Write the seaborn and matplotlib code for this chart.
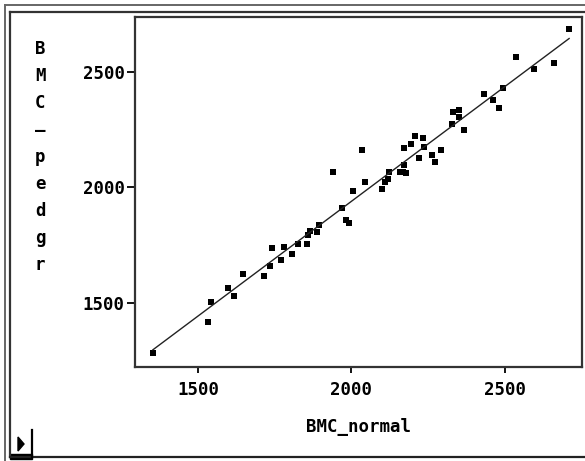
import matplotlib
matplotlib.use("Agg")
import matplotlib.pyplot as plt
import seaborn as sns
import pandas as pd
from matplotlib.lines import Line2D
from matplotlib.patches import Rectangle, Polygon

# ---- data ----
bmc_normal = [1353, 1533, 1542, 1598, 1617, 1647, 1715, 1735, 1741, 1771,
              1781, 1805, 1826, 1856, 1860, 1865, 1888, 1895, 1970, 1984,
              1992, 2005, 1939, 2034, 2043, 2099, 2110, 2120, 2124, 2157,
              2169, 2179, 2173, 2173, 2193, 2208, 2233, 2238, 2222, 2262,
              2273, 2291, 2327, 2333, 2352, 2352, 2366, 2433, 2461, 2482,
              2496, 2536, 2596, 2661, 2710]
bmc_pedgr = [1283, 1417, 1504, 1564, 1530, 1625, 1614, 1660, 1738, 1686,
             1742, 1712, 1755, 1755, 1794, 1811, 1807, 1835, 1911, 1859,
             1846, 1984, 2068, 2162, 2025, 1995, 2025, 2035, 2068, 2068,
             2068, 2061, 2097, 2172, 2189, 2222, 2216, 2173, 2129, 2140,
             2111, 2163, 2274, 2326, 2335, 2307, 2250, 2404, 2377, 2342,
             2429, 2565, 2513, 2537, 2684]
x_ticks = [1500, 2000, 2500]
y_ticks = [1500, 2000, 2500]
x_label = "BMC_normal"
y_label = "BMC_pedgr"

df = pd.DataFrame({"BMC_normal": bmc_normal, "BMC_pedgr": bmc_pedgr})

W, H = 585, 461
fig = plt.figure(figsize=(W / 100, H / 100), dpi=100)
fig.patch.set_facecolor("white")

def fx(x):
    return x / W

def fy(y):
    return 1 - y / H

ax = fig.add_axes([fx(134.5), fy(367), fx(582) - fx(134.5), fy(17) - fy(367)])

sns.regplot(data=df, x="BMC_normal", y="BMC_pedgr", ax=ax, ci=None,
            marker="s",
            scatter_kws=dict(s=15, color="black", linewidths=0, alpha=1),
            line_kws=dict(color="#222222", lw=1.0))

ax.set_xlim(1293, 2752)
ax.set_ylim(1222, 2738)
ax.set_xticks(x_ticks)
ax.set_yticks(y_ticks)

font = dict(family="DejaVu Sans Mono", weight="bold", size=12.5)
ax.set_xticklabels([str(t) for t in x_ticks], fontdict=font)
ax.set_yticklabels([str(t) for t in y_ticks], fontdict=font)
ax.tick_params(axis="x", direction="out", length=4, width=1.3, pad=6, colors="black")
ax.tick_params(axis="y", direction="out", length=6, width=1.3, pad=1, colors="black")
ax.set_xlabel(x_label, fontdict=font, labelpad=14)
ax.set_ylabel("")
for sp in ax.spines.values():
    sp.set_linewidth(1.6)
    sp.set_color("#333333")
ax.set_facecolor("white")

# stacked vertical y label
ys = [49 + 27 * i for i in range(len(y_label))]
for ch, yy in zip(y_label, ys):
    if ch == "_":
        fig.text(fx(40), fy(yy - 7), ch, ha="center", va="center", **font)
    else:
        fig.text(fx(40), fy(yy), ch, ha="center", va="center", **font)

# window frame
def line(x0, y0, x1, y1, color="#555555", lw=1.5):
    fig.add_artist(Line2D([fx(x0), fx(x1)], [fy(y0), fy(y1)],
                          transform=fig.transFigure, color=color, lw=lw))

line(5, 5, 585, 5, "#666666", 1.4)
line(5, 5, 5, 461, "#666666", 1.4)
line(10, 12, 585, 12, "#333333", 1.6)
line(10, 12, 10, 457, "#333333", 1.6)
line(10, 457, 585, 457, "#222222", 1.6)
# little widget bottom-left
fig.add_artist(Rectangle((fx(10), fy(459)), fx(32) - fx(10), fy(454) - fy(459),
                         transform=fig.transFigure, color="black"))
fig.add_artist(Line2D([fx(32), fx(32)], [fy(430), fy(457)],
                      transform=fig.transFigure, color="black", lw=1.6))
fig.add_artist(Polygon([(fx(18), fy(437)), (fx(18), fy(451)), (fx(24), fy(444))],
                       closed=True, transform=fig.transFigure, color="black"))

fig.savefig("out.png", dpi=100, facecolor="white")
